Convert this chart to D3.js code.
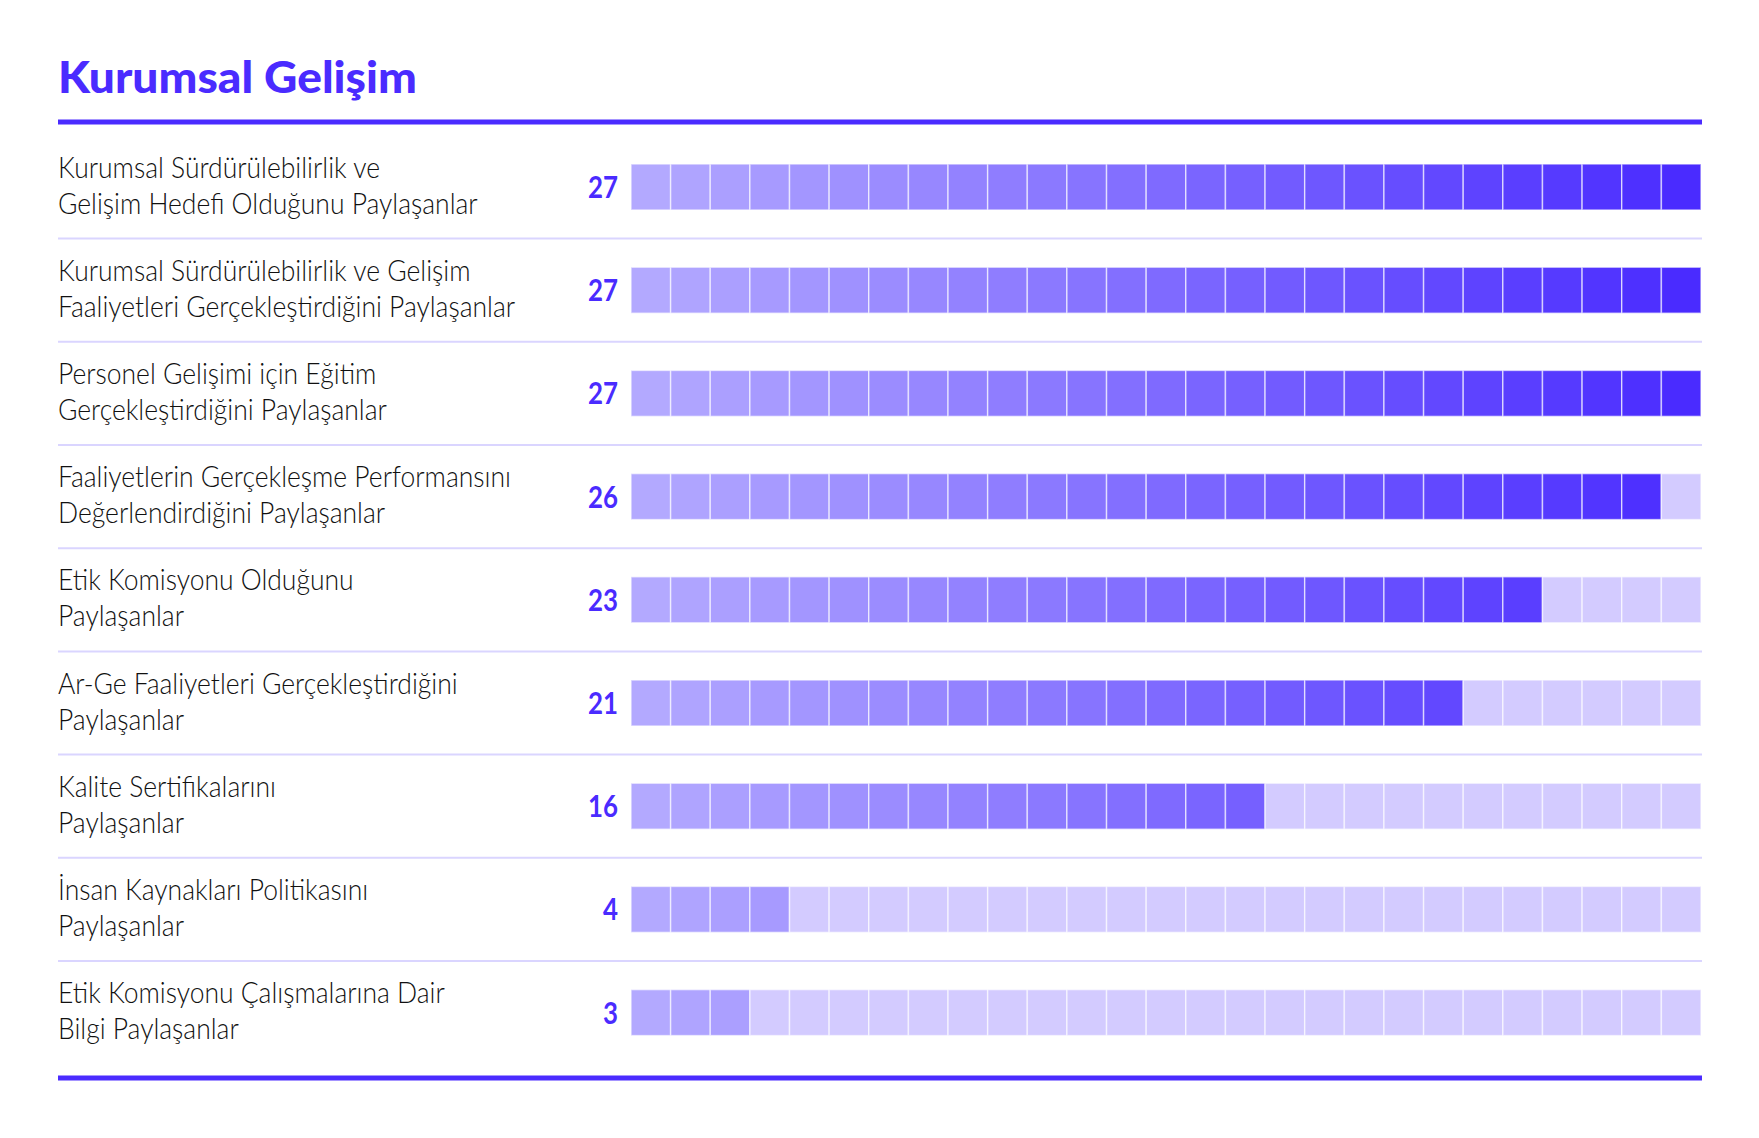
<!DOCTYPE html>
<html><head><meta charset="utf-8">
<script src="https://cdn.jsdelivr.net/npm/d3@7"></script>
<style>
html,body{margin:0;padding:0;background:#fff;}
svg{display:block;}
</style></head>
<body>
<svg id="chart" width="1759" height="1138"></svg>
<script>
const title = "Kurumsal Gelişim";
const categories = [
  ["Kurumsal Sürdürülebilirlik ve", "Gelişim Hedefi Olduğunu Paylaşanlar"],
  ["Kurumsal Sürdürülebilirlik ve Gelişim", "Faaliyetleri Gerçekleştirdiğini Paylaşanlar"],
  ["Personel Gelişimi için Eğitim", "Gerçekleştirdiğini Paylaşanlar"],
  ["Faaliyetlerin Gerçekleşme Performansını", "Değerlendirdiğini Paylaşanlar"],
  ["Etik Komisyonu Olduğunu", "Paylaşanlar"],
  ["Ar-Ge Faaliyetleri Gerçekleştirdiğini", "Paylaşanlar"],
  ["Kalite Sertifikalarını", "Paylaşanlar"],
  ["İnsan Kaynakları Politikasını", "Paylaşanlar"],
  ["Etik Komisyonu Çalışmalarına Dair", "Bilgi Paylaşanlar"]
];
const values = [27, 27, 27, 26, 23, 21, 16, 4, 3];
const totalCells = 27;

const BLUE = "#4a2bff";
const LIGHT_START = "#b3a9ff";
const EMPTY = "#d3cbff";
const SEP = "#dad5ff";

const svg = d3.select("#chart");
const left = 58, right = 1702;
const barX0 = 631, barX1 = 1701;

const y = d3.scaleBand().domain(d3.range(categories.length)).range([135.4, 1064.2]).padding(0);
const x = d3.scaleLinear().domain([0, totalCells]).range([barX0, barX1]);
const color = d3.scaleLinear().domain([0, totalCells - 1]).range([LIGHT_START, BLUE]).interpolate(d3.interpolateRgb);
const barH = 46;

// Title
const t = svg.append("text")
  .attr("x", left).attr("y", 93)
  .attr("font-family", "Lato, 'Open Sans', sans-serif")
  .attr("font-weight", 900)
  .attr("font-size", 44)
  .attr("fill", BLUE)
  .text(title);
{
  const w = t.node().getComputedTextLength();
  const s = 359 / w;
  t.attr("transform", `translate(${left},0) scale(${s},1) translate(${-left},0)`);
}

// Rules
svg.append("rect").attr("x", left).attr("y", 119.5).attr("width", right - left).attr("height", 5).attr("fill", BLUE);
svg.append("rect").attr("x", left).attr("y", 1075.5).attr("width", right - left).attr("height", 5).attr("fill", BLUE);

// Separators
svg.selectAll("line.sep").data(d3.range(1, categories.length)).join("line")
  .attr("class", "sep")
  .attr("x1", left).attr("x2", right)
  .attr("y1", d => y(d)).attr("y2", d => y(d))
  .attr("stroke", SEP).attr("stroke-width", 2);

const rows = svg.selectAll("g.row").data(categories.map((c, i) => ({lines: c, value: values[i], i}))).join("g")
  .attr("class", "row")
  .attr("transform", d => `translate(0,${y(d.i) + y.bandwidth() / 2})`);

// Labels
const labelGroups = rows.append("g").attr("class", "lbl");
const labels = labelGroups.append("text")
  .attr("x", left)
  .attr("font-family", "Lato, 'Open Sans', sans-serif")
  .attr("font-weight", 300)
  .attr("font-size", 29.5)
  .attr("fill", "#111");
labels.selectAll("tspan").data(d => d.lines).join("tspan")
  .attr("x", left)
  .attr("y", (d, k) => k === 0 ? -9.5 : 26.5)
  .text(d => d);

// measure reference line to compute horizontal condensing
const refT = svg.append("text").attr("font-family", "Lato, 'Open Sans', sans-serif")
  .attr("font-weight", 300).attr("font-size", 29.5)
  .text(categories[0][1]);
const refW = refT.node().getComputedTextLength();
refT.remove();
const sx = 420 / refW;
labelGroups.attr("transform", `translate(${left},0) scale(${sx},1) translate(${-left},0)`);

// Values
const nums = rows.append("text")
  .attr("x", 618).attr("y", 11)
  .attr("text-anchor", "end")
  .attr("font-family", "Lato, 'Open Sans', sans-serif")
  .attr("font-weight", 700)
  .attr("font-size", 31)
  .attr("fill", BLUE)
  .text(d => d.value);
const refN = svg.append("text").attr("font-family", "Lato, 'Open Sans', sans-serif").attr("font-weight", 700).attr("font-size", 31).text("27");
const nsx = 30 / refN.node().getComputedTextLength();
refN.remove();
nums.attr("transform", `translate(618,0) scale(${nsx},1) translate(-618,0)`);

// Cells
rows.each(function(d) {
  d3.select(this).selectAll("rect.cell").data(d3.range(totalCells)).join("rect")
    .attr("class", "cell")
    .attr("x", j => x(j))
    .attr("y", -barH / 2)
    .attr("width", j => x(j + 1) - x(j))
    .attr("height", barH)
    .attr("fill", j => j < d.value ? color(j) : EMPTY)
    .attr("stroke", "rgba(255,255,255,0.6)")
    .attr("stroke-width", 1.5);
});
</script>
</body></html>
